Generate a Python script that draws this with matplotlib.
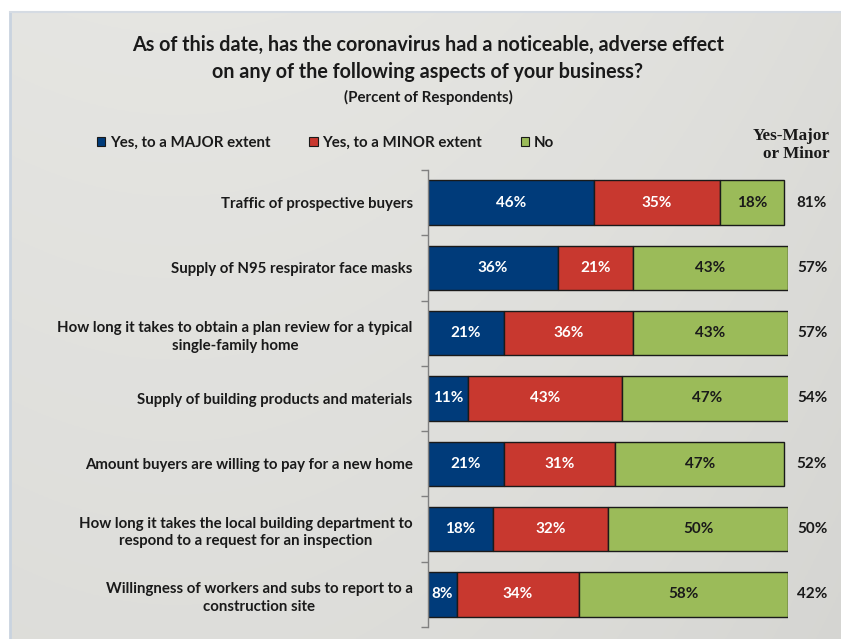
import matplotlib
matplotlib.use("Agg")
import matplotlib.pyplot as plt
import matplotlib.transforms as mtrans
import numpy as np
from matplotlib.patches import Patch

categories = [
    "Traffic of prospective buyers",
    "Supply of N95 respirator face masks",
    "How long it takes to obtain a plan review for a typical\nsingle-family home",
    "Supply of building products and materials",
    "Amount buyers are willing to pay for a new home",
    "How long it takes the local building department to\nrespond to a request for an inspection",
    "Willingness of workers and subs to report to a\nconstruction site",
]
major = [46, 36, 21, 11, 21, 18, 8]
minor = [35, 21, 36, 43, 31, 32, 34]
no = [18, 43, 43, 47, 47, 50, 58]
yes_total = [81, 57, 57, 54, 52, 50, 42]
series_names = ["Yes, to a MAJOR extent", "Yes, to a MINOR extent", "No"]
colors = ["#003b7a", "#c8382f", "#9bbb59"]
text_colors = ["white", "white", "#1a1a1a"]

W, H = 841, 639
fig = plt.figure(figsize=(W / 100, H / 100), dpi=100)
fig.patch.set_facecolor("white")

# background panel gradient
bg = fig.add_axes([10 / W, 0, 1 - 10 / W, 1 - 12 / H], zorder=-10)
xx = np.linspace(0, 1, 300)
yy = np.linspace(0, 1, 300)
X, Y = np.meshgrid(xx, yy)
lum = 0.905 - 0.05 * (X - 0.4) ** 2 - 0.03 * Y - 0.02 * X
img = np.dstack([lum, lum, lum * 0.985])
bg.imshow(img, aspect="auto", extent=[0, 1, 0, 1], origin="upper")
bg.axis("off")
fig.add_artist(plt.Line2D([10 / W, 10 / W], [0, 1 - 12 / H], color="#c9d3df", lw=2, zorder=-5))
fig.add_artist(plt.Line2D([10 / W, 1], [1 - 12 / H, 1 - 12 / H], color="#d5dbe3", lw=1.5, zorder=-5))

fam = ["Lato", "DejaVu Sans"]
dark = "#1a1a1a"

left, right = 428 / W, 788 / W
bottom, top = 1 - 627 / H, 1 - 170 / H
ax = fig.add_axes([left, bottom, right - left, top - bottom])
ax.set_facecolor("none")

y = np.arange(len(categories))
lefts = np.zeros(len(categories))
for vals, c, tc, name in zip([major, minor, no], colors, text_colors, series_names):
    vals = np.array(vals)
    bars = ax.barh(y, vals, left=lefts, height=0.68, color=c, edgecolor=dark,
                   linewidth=1.0, label=name)
    for b, v in zip(bars, vals):
        ax.text(b.get_x() + b.get_width() / 2, b.get_y() + b.get_height() / 2,
                f"{v}%", ha="center", va="center", color=tc, fontsize=11,
                fontweight="bold", family=fam)
    lefts += vals

ax.set_xlim(0, 100)
ax.set_ylim(len(categories) - 0.5, -0.5)
ax.set_yticks(y)
ax.set_yticklabels(categories, fontsize=10.8, fontweight="bold", family=fam,
                   color=dark, multialignment="center", linespacing=1.35)
ax.tick_params(axis="y", which="major", length=0, pad=11)
ax.set_yticks(np.arange(-0.5, len(categories), 1.0), minor=True)
ax.tick_params(axis="y", which="minor", length=5, color="#808080", width=1)
ax.set_xticks([])
for s in ["top", "right", "bottom"]:
    ax.spines[s].set_visible(False)
ax.spines["left"].set_color("#808080")
ax.spines["left"].set_linewidth(1)

trans = mtrans.blended_transform_factory(fig.transFigure, ax.transData)
for yi, t in zip(y, yes_total):
    ax.text(812 / W, yi, f"{t}%", transform=trans, ha="center", va="center",
            fontsize=11, fontweight="bold", family=fam, color=dark, clip_on=False)

fig.text(830 / W, 1 - 145 / H, "Yes-Major\nor Minor", ha="right", va="center",
         fontsize=12.3, fontweight="bold", family=["Liberation Serif"], color=dark,
         multialignment="right", linespacing=1.1)

fig.text(428 / W, 1 - 45 / H, "As of this date, has the coronavirus had a noticeable, adverse effect",
         ha="center", va="center", fontsize=14.2, fontweight="bold", family=fam, color=dark)
fig.text(428 / W, 1 - 72 / H, "on any of the following aspects of your business?",
         ha="center", va="center", fontsize=14.2, fontweight="bold", family=fam, color=dark)
fig.text(428 / W, 1 - 97 / H, "(Percent of Respondents)",
         ha="center", va="center", fontsize=10.8, fontweight="bold", family=fam, color=dark)

handles = [Patch(facecolor=c, edgecolor=dark, linewidth=0.8) for c in colors]
leg = fig.legend(handles, series_names, ncol=3, loc="center left",
                 bbox_to_anchor=(97 / W, 1 - 143 / H), frameon=False,
                 handlelength=0.55, handleheight=0.55, handletextpad=0.3,
                 columnspacing=2.6, borderaxespad=0, borderpad=0,
                 prop={"family": fam, "weight": "bold", "size": 10.8})
for t in leg.get_texts():
    t.set_color(dark)

fig.savefig("out.png", dpi=100)
